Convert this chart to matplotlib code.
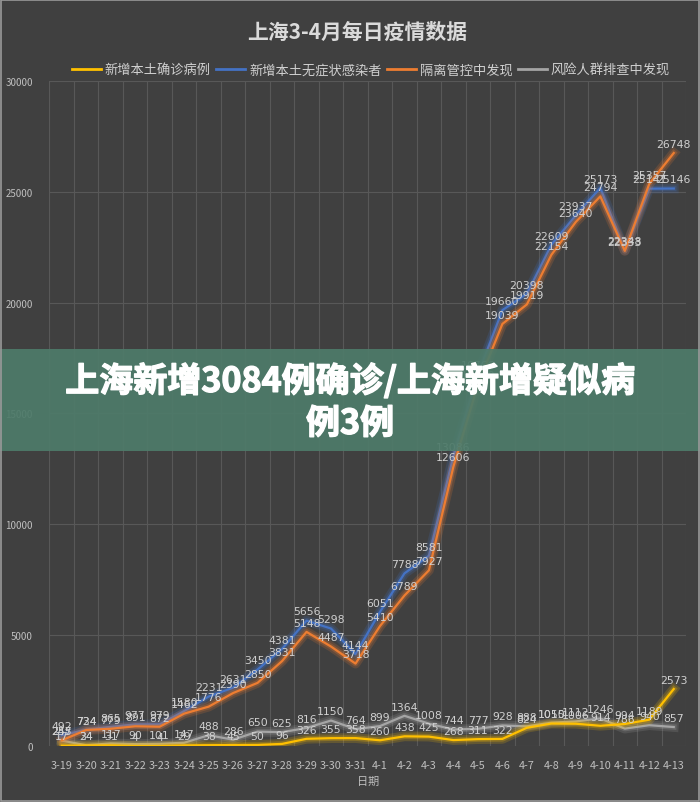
import matplotlib
matplotlib.use("Agg")
import matplotlib.pyplot as plt
import matplotlib.patheffects as pe
from matplotlib.patches import Rectangle

plt.rcParams['font.family'] = ['Noto Sans CJK SC', 'DejaVu Sans']

dates = ["3-19", "3-20", "3-21", "3-22", "3-23", "3-24", "3-25", "3-26", "3-27", "3-28",
         "3-29", "3-30", "3-31", "4-1", "4-2", "4-3", "4-4", "4-5", "4-6", "4-7",
         "4-8", "4-9", "4-10", "4-11", "4-12", "4-13"]
confirmed = [17, 24, 31, 4, 4, 29, 38, 45, 50, 96, 326, 355, 358, 260, 438, 425, 268, 311,
             322, 824, 1015, 1006, 914, 994, 1189, 2573]
asymptomatic = [492, 734, 865, 977, 979, 1580, 2231, 2631, 3450, 4381, 5656, 5298, 4144,
                6051, 7788, 8581, 13086, 16766, 19660, 20398, 22609, 23937, 25173, 22348,
                25141, 25146]
isolation = [257, 724, 779, 891, 872, 1462, 1776, 2390, 2850, 3831, 5148, 4487, 3718, 5410,
             6789, 7927, 12606, 16300, 19039, 19919, 22154, 23640, 24794, 22333, 25357, 26748]
screening = [245, 34, 117, 90, 101, 147, 488, 286, 650, 625, 816, 1150, 764, 899, 1364,
             1008, 744, 777, 928, 888, 1050, 1112, 1246, 786, 940, 857]

series_names = ["新增本土确诊病例", "新增本土无症状感染者", "隔离管控中发现", "风险人群排查中发现"]
series_vals = [confirmed, asymptomatic, isolation, screening]
colors = ["#FFC000", "#4472C4", "#ED7D31", "#A5A5A5"]

title = "上海3-4月每日疫情数据"
xlabel = "日期"
banner_text = "上海新增3084例确诊/上海新增疑似病\n例3例"

bg = "#404040"
fig = plt.figure(figsize=(7.0, 8.03), dpi=100, facecolor=bg)
ax = fig.add_axes([0.0707, 0.0697, 0.9093, 0.8283], facecolor=bg)

x = list(range(len(dates)))
zorders = [5, 4, 4, 3]
for name, vals, c, z in zip(series_names, series_vals, colors, zorders):
    ax.plot(x, vals, color=c, lw=1.6, label=name, zorder=z,
            path_effects=[pe.Stroke(linewidth=7, foreground=c, alpha=0.18),
                          pe.Stroke(linewidth=4, foreground=c, alpha=0.25),
                          pe.Normal()])
    for xi, v in zip(x, vals):
        ax.annotate(str(v), (xi, v), xytext=(0, 3), textcoords="offset points",
                    ha="center", va="bottom", fontsize=7.8, color="#d0d0d0",
                    zorder=6, family=['DejaVu Sans'])

ax.set_xlim(-0.5, len(dates) - 0.5)
ax.set_ylim(0, 30000)
ax.set_yticks(range(0, 30001, 5000))
ax.set_xticks(x)
ax.set_xticklabels(dates)
ax.set_xticks([i - 0.5 for i in range(len(dates) + 1)], minor=True)
ax.grid(True, axis="y", which="major", color="#585858", lw=0.8, zorder=0)
ax.grid(True, axis="x", which="minor", color="#585858", lw=0.8, zorder=0)
ax.tick_params(axis="both", which="both", length=0, colors="#bfbfbf")
ax.tick_params(axis="x", labelsize=7.8, pad=10)
ax.tick_params(axis="y", labelsize=7, pad=12)
for s in ax.spines.values():
    s.set_visible(False)
ax.set_xlabel(xlabel, color="#bfbfbf", fontsize=8, labelpad=4)

fig.text(0.51, 0.96, title, ha="center", va="center", fontsize=15,
         color="#dadada", weight="bold")
leg = fig.legend(loc="center", bbox_to_anchor=(0.53, 0.912), ncol=4, frameon=False,
                 fontsize=9.5, labelcolor="#d0d0d0", handlelength=2.2,
                 columnspacing=0.4, handletextpad=0.3)
for ln in leg.get_lines():
    ln.set_linewidth(2)
    ln.set_path_effects([])

# banner overlay
fig.patches.append(Rectangle((0, 1 - 452 / 803), 1, 102 / 803, transform=fig.transFigure,
                             facecolor="#4e7b6a", alpha=0.93, edgecolor="none", zorder=10))
fig.text(0.5, 1 - 403 / 803, banner_text, ha="center", va="center", fontsize=24.5,
         color="white", weight="bold", linespacing=1.25, zorder=11,
         path_effects=[pe.Stroke(linewidth=1.0, foreground="white"), pe.Normal()])

# outer border
fig.patches.append(Rectangle((0.001, 0.001), 0.998, 0.998, transform=fig.transFigure,
                             facecolor="none", edgecolor="#9a9a9a", lw=1.2, zorder=12))

fig.savefig("out.png", dpi=100, facecolor=bg)
